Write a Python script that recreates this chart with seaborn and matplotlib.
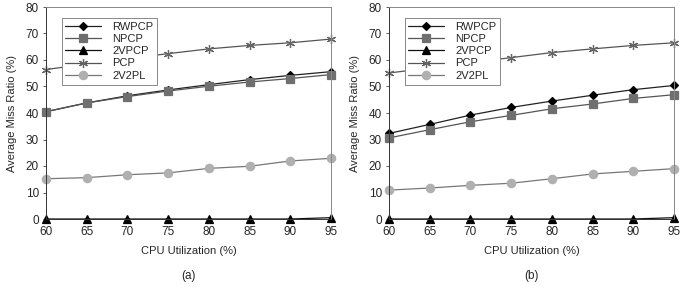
import matplotlib
matplotlib.use("Agg")
import matplotlib.pyplot as plt
import seaborn as sns
import pandas as pd
import numpy as np

sns.set_style("ticks")
plt.rcParams['font.family'] = ['Liberation Sans', 'DejaVu Sans']

utilization = [60, 65, 70, 75, 80, 85, 90, 95]
series_names = ["RWPCP", "NPCP", "2VPCP", "PCP", "2V2PL"]

# panel (a)
a_rwpcp = [40.5, 43.8, 46.5, 48.7, 50.7, 52.6, 54.2, 55.6]
a_npcp  = [40.5, 43.8, 46.2, 48.3, 50.1, 51.7, 53.0, 54.5]
a_2vpcp = [0.0, 0.0, 0.0, 0.0, 0.0, 0.0, 0.0, 0.5]
a_pcp   = [56.4, 58.5, 60.5, 62.4, 64.2, 65.5, 66.5, 67.9]
a_2v2pl = [15.2, 15.6, 16.7, 17.4, 19.1, 19.9, 21.9, 22.9]

# panel (b)
b_rwpcp = [32.3, 35.7, 39.2, 42.1, 44.5, 46.7, 48.8, 50.4]
b_npcp  = [30.6, 33.7, 36.7, 39.1, 41.6, 43.4, 45.5, 46.9]
b_2vpcp = [0.0, 0.0, 0.0, 0.0, 0.0, 0.0, 0.0, 0.5]
b_pcp   = [55.1, 57.0, 59.0, 60.9, 62.8, 64.2, 65.5, 66.5]
b_2v2pl = [10.9, 11.7, 12.7, 13.5, 15.2, 17.0, 18.0, 19.0]

panels = [
    ("(a)", [a_rwpcp, a_npcp, a_2vpcp, a_pcp, a_2v2pl]),
    ("(b)", [b_rwpcp, b_npcp, b_2vpcp, b_pcp, b_2v2pl]),
]

styles = {
    "RWPCP": dict(marker="D", ms=3.8, mfc="black", mec="black", color="#222222"),
    "NPCP":  dict(marker="s", ms=5.5, mfc="#6f6f6f", mec="#6f6f6f", color="#555555"),
    "2VPCP": dict(marker="^", ms=5.5, mfc="black", mec="black", color="#111111"),
    "PCP":   dict(marker=(6, 2, 0), ms=6.5, mfc="#666666", mec="#666666", color="#555555"),
    "2V2PL": dict(marker="o", ms=6.0, mfc="#b0b0b0", mec="#b0b0b0", color="#777777"),
}

fig = plt.figure(figsize=(6.83, 2.91), dpi=100)
lefts = [46/683, 389/683]
width = 285/683
bottom = 1 - 219/291
height = 212/291

for (cap, vals), left in zip(panels, lefts):
    ax = fig.add_axes([left, bottom, width, height])
    for name, v in zip(series_names, vals):
        st = styles[name]
        df = pd.DataFrame({"x": utilization, "y": v})
        sns.lineplot(data=df, x="x", y="y", ax=ax, color=st["color"], lw=0.9,
                     marker=st["marker"], markersize=st["ms"],
                     markerfacecolor=st["mfc"], markeredgecolor=st["mec"],
                     markeredgewidth=0.9, label=name, clip_on=False)
    ax.set_xlim(60, 95)
    ax.set_ylim(0, 80)
    ax.set_xticks(utilization)
    ax.set_yticks(np.arange(0, 81, 10))
    ax.tick_params(labelsize=8.5, length=2, width=0.6, color="#444444", pad=3)
    for s in ax.spines.values():
        s.set_linewidth(0.7)
        s.set_color("#888888")
    ax.spines["left"].set_color("#333333")
    ax.spines["bottom"].set_color("#333333")
    ax.set_xlabel("CPU Utilization (%)", fontsize=8, labelpad=6)
    ax.set_ylabel("Average Miss Ratio (%)", fontsize=8, labelpad=6)
    leg = ax.legend(loc="upper left", bbox_to_anchor=(0.035, 0.975), fontsize=8,
                    handlelength=3.2, handletextpad=1.0, labelspacing=0.2,
                    frameon=True, fancybox=False, borderpad=0.35, framealpha=1)
    leg.get_frame().set_edgecolor("#888888")
    leg.get_frame().set_linewidth(0.7)
    leg.set_zorder(10)
    ax.text(0.5, -0.27, cap, transform=ax.transAxes, ha="center", va="center", fontsize=8.5)

fig.savefig("out.png", dpi=100)
